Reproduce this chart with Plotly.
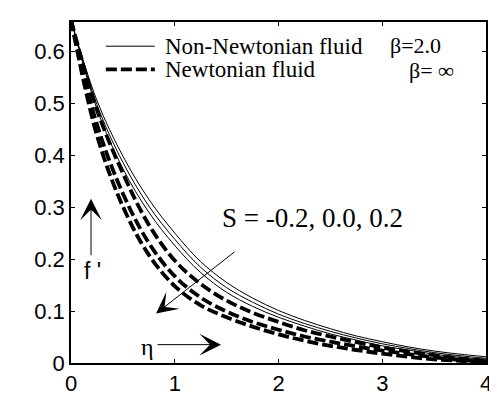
import plotly.graph_objects as go

eta = [0.0, 0.25, 0.5, 0.75, 1.0, 1.25, 1.5, 1.75, 2.0, 2.25, 2.5, 2.75, 3.0, 3.25, 3.5, 3.75, 4.0]

# Non-Newtonian fluid, beta = 2.0, S = -0.2, 0.0, 0.2
nn_s_m02 = [0.66, 0.505, 0.398, 0.315, 0.250, 0.195, 0.155, 0.125, 0.101, 0.082, 0.066, 0.052, 0.041, 0.031, 0.023, 0.017, 0.012]
nn_s_00 = [0.66, 0.497, 0.386, 0.302, 0.238, 0.184, 0.145, 0.117, 0.094, 0.076, 0.061, 0.048, 0.037, 0.028, 0.020, 0.014, 0.009]
nn_s_02 = [0.66, 0.489, 0.374, 0.290, 0.226, 0.174, 0.136, 0.109, 0.088, 0.071, 0.056, 0.044, 0.033, 0.025, 0.017, 0.011, 0.007]

# Newtonian fluid, beta = infinity, S = -0.2, 0.0, 0.2
nw_s_m02 = [0.66, 0.487, 0.365, 0.266, 0.197, 0.152, 0.120, 0.097, 0.079, 0.063, 0.051, 0.040, 0.030, 0.022, 0.015, 0.009, 0.004]
nw_s_00 = [0.66, 0.459, 0.326, 0.231, 0.167, 0.126, 0.099, 0.079, 0.064, 0.051, 0.041, 0.032, 0.024, 0.017, 0.011, 0.006, 0.002]
nw_s_02 = [0.66, 0.438, 0.301, 0.208, 0.148, 0.111, 0.088, 0.070, 0.055, 0.043, 0.033, 0.025, 0.018, 0.012, 0.007, 0.004, 0.001]

x_ticks = [0, 1, 2, 3, 4]
y_ticks = [0, 0.1, 0.2, 0.3, 0.4, 0.5, 0.6]
y_tick_labels = ["0", "0.1", "0.2", "0.3", "0.4", "0.5", "0.6"]

legend_labels = ["Non-Newtonian fluid", "Newtonian fluid"]
beta_labels = ["β=2.0", "β= <b>∞</b>"]
s_label = "S = -0.2, 0.0, 0.2"

serif = "Liberation Serif"
sans = "Liberation Sans"
DASH = "11px,4px"

fig = go.Figure()

for ys in [nn_s_m02, nn_s_00, nn_s_02]:
    fig.add_trace(go.Scatter(
        x=eta, y=ys, mode="lines", showlegend=False,
        line=dict(color="black", width=1, shape="spline", smoothing=1.0),
    ))
for ys in [nw_s_m02, nw_s_00, nw_s_02]:
    fig.add_trace(go.Scatter(
        x=eta, y=ys, mode="lines", showlegend=False,
        line=dict(color="black", width=3.8, dash=DASH, shape="spline", smoothing=1.0),
    ))

# manual legend (samples + labels)
shapes = [
    dict(type="line", xref="paper", yref="paper", x0=0.084, x1=0.202, y0=0.929, y1=0.929,
         line=dict(color="black", width=1)),
    dict(type="line", xref="paper", yref="paper", x0=0.084, x1=0.202, y0=0.861, y1=0.861,
         line=dict(color="black", width=3.8, dash=DASH)),
]

annotations = [
    dict(x=0.222, y=0.929, xref="paper", yref="paper", text=legend_labels[0], showarrow=False,
         xanchor="left", yanchor="middle", font=dict(family=serif, size=23, color="black")),
    dict(x=0.222, y=0.861, xref="paper", yref="paper", text=legend_labels[1], showarrow=False,
         xanchor="left", yanchor="middle", font=dict(family=serif, size=23, color="black")),
    dict(x=0.764, y=0.932, xref="paper", yref="paper", text=beta_labels[0], showarrow=False,
         xanchor="left", yanchor="middle", font=dict(family=serif, size=22, color="black")),
    dict(x=0.928, y=0.858, xref="paper", yref="paper", text=beta_labels[1], showarrow=False,
         xanchor="right", yanchor="middle", font=dict(family=serif, size=22, color="black")),
    dict(x=2.33, y=0.279, text=s_label, showarrow=False,
         xanchor="center", yanchor="middle", font=dict(family=serif, size=27, color="black")),
    # S arrow
    dict(x=0.82, y=0.095, ax=1.59, ay=0.216, xref="x", yref="y", axref="x", ayref="y",
         text="", showarrow=True, arrowhead=3, arrowsize=3.6, arrowwidth=1, arrowcolor="black"),
    # f' arrow
    dict(x=0.193, y=0.316, ax=0.193, ay=0.2045, xref="x", yref="y", axref="x", ayref="y",
         text="", showarrow=True, arrowhead=3, arrowsize=3.6, arrowwidth=1, arrowcolor="black"),
    dict(x=0.21, y=0.177, text="f '", showarrow=False, xanchor="center", yanchor="middle",
         font=dict(family=sans, size=23, color="black")),
    # eta arrow
    dict(x=1.446, y=0.0353, ax=0.82, ay=0.0353, xref="x", yref="y", axref="x", ayref="y",
         text="", showarrow=True, arrowhead=3, arrowsize=3.6, arrowwidth=1, arrowcolor="black"),
    dict(x=0.742, y=0.031, text="η", showarrow=False, xanchor="center", yanchor="middle",
         font=dict(family=serif, size=24, color="black")),
]

fig.update_layout(
    width=497, height=400,
    margin=dict(l=63, r=19, t=14, b=33),
    paper_bgcolor="white", plot_bgcolor="white",
    showlegend=False,
    shapes=shapes,
    annotations=annotations,
)
fig.update_xaxes(range=[0, 4], tickvals=x_ticks, ticktext=[str(v) for v in x_ticks],
                 showgrid=False, zeroline=False, showline=True, linecolor="black", linewidth=1.5,
                 mirror="ticks", ticks="inside", ticklen=4, tickcolor="black",
                 tickfont=dict(family=sans, size=22, color="black"))
fig.update_yaxes(range=[0, 0.656], tickvals=y_ticks, ticktext=y_tick_labels,
                 showgrid=False, zeroline=False, showline=True, linecolor="black", linewidth=1.5,
                 mirror="ticks", ticks="inside", ticklen=4, tickcolor="black",
                 tickfont=dict(family=sans, size=22, color="black"))

fig.write_html("out.html")
